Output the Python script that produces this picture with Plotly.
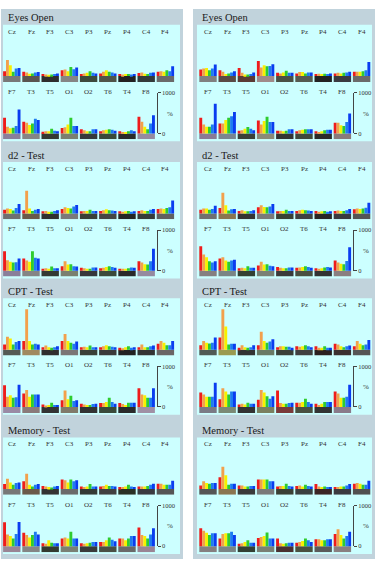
import plotly.graph_objects as go

W, H = 379, 567

TESTS = ["Eyes Open", "d2 - Test", "CPT - Test", "Memory - Test"]
ELEC_ROW1 = ["Cz", "Fz", "F3", "C3", "P3", "Pz", "P4", "C4", "F4"]
ELEC_ROW2 = ["F7", "T3", "T5", "O1", "O2", "T6", "T4", "F8"]
BAND_COLORS = ["#ee1c1c", "#f2a04c", "#f8f000", "#2ecc2e", "#1e7cf0", "#0a3cf0"]
SCALE_TICKS = [0, 1000]
SCALE_TEXT = ["0", "1000"]

# values in % for each electrode: 6 bands (red, orange, yellow, green, blue, dark blue)
EO_L_R1 = [[120, 400, 270, 105, 190, 200], [105, 90, 55, 65, 90, 100], [50, 40, 30, 40, 50, 65],
           [145, 160, 120, 225, 170, 210], [50, 65, 80, 120, 80, 65], [65, 105, 145, 105, 90, 65],
           [50, 40, 50, 50, 40, 50], [75, 90, 55, 50, 80, 90], [105, 120, 105, 145, 120, 245]]
EO_L_R2 = [[385, 165, 125, 140, 180, 590], [290, 260, 205, 245, 360, 330], [40, 55, 55, 115, 65, 55],
           [130, 150, 220, 385, 180, 180], [100, 80, 55, 55, 100, 100], [55, 75, 90, 100, 90, 65],
           [50, 35, 35, 50, 75, 55], [410, 290, 165, 100, 245, 450]]
EO_R_R1 = [[160, 190, 200, 145, 190, 285], [145, 105, 50, 65, 90, 120], [200, 80, 40, 40, 50, 90],
           [370, 210, 270, 245, 250, 290], [80, 65, 90, 130, 80, 80], [65, 100, 100, 65, 90, 90],
           [50, 55, 50, 55, 50, 65], [65, 80, 65, 80, 90, 105], [105, 105, 105, 120, 145, 350]]
EO_R_R2 = [[385, 220, 165, 165, 220, 730], [245, 245, 330, 385, 425, 530], [65, 80, 115, 155, 115, 80],
           [320, 220, 305, 410, 280, 280], [65, 65, 55, 65, 100, 100], [55, 75, 90, 100, 100, 100],
           [50, 35, 55, 75, 90, 90], [260, 260, 200, 180, 280, 490]]

D2_L_R1 = [[90, 120, 110, 70, 130, 230], [80, 560, 120, 60, 90, 110], [50, 60, 40, 40, 60, 80],
           [110, 150, 130, 120, 170, 210], [50, 60, 60, 90, 60, 60], [60, 80, 100, 80, 70, 60],
           [50, 40, 50, 60, 40, 50], [60, 80, 60, 60, 90, 110], [110, 120, 110, 130, 150, 320]]
D2_L_R2 = [[480, 260, 220, 200, 210, 300], [300, 250, 220, 480, 320, 300], [50, 60, 50, 100, 60, 60],
           [110, 230, 150, 160, 110, 100], [70, 60, 50, 50, 80, 80], [60, 70, 90, 110, 90, 70],
           [50, 50, 50, 60, 80, 70], [230, 200, 160, 150, 230, 540]]
D2_R_R1 = [[90, 120, 120, 90, 110, 190], [130, 510, 200, 70, 100, 110], [60, 80, 50, 50, 60, 80],
           [150, 200, 160, 150, 170, 230], [50, 60, 60, 90, 60, 60], [60, 80, 90, 80, 70, 60],
           [60, 40, 50, 60, 40, 50], [60, 70, 60, 60, 80, 110], [100, 120, 110, 120, 140, 260]]
D2_R_R2 = [[600, 400, 330, 230, 200, 230], [300, 330, 250, 220, 250, 270], [60, 70, 60, 110, 70, 70],
           [130, 220, 150, 160, 120, 110], [90, 70, 60, 60, 80, 80], [70, 80, 90, 110, 90, 70],
           [60, 50, 60, 80, 90, 80], [250, 200, 170, 160, 240, 580]]

CPT_L_R1 = [[130, 320, 275, 130, 190, 215], [215, 1000, 215, 130, 145, 130], [60, 105, 60, 45, 60, 85],
            [215, 385, 215, 170, 145, 200], [60, 70, 60, 105, 60, 60], [60, 85, 110, 85, 70, 60],
            [45, 35, 60, 85, 45, 60], [60, 130, 60, 60, 85, 105], [145, 215, 170, 110, 110, 215]]
CPT_L_R2 = [[535, 250, 290, 225, 240, 550], [335, 420, 250, 310, 310, 310], [60, 35, 50, 105, 50, 50],
            [165, 405, 190, 275, 145, 165], [80, 60, 50, 50, 70, 80], [95, 95, 120, 225, 120, 80],
            [95, 70, 50, 105, 105, 105], [465, 310, 290, 225, 230, 465]]
CPT_R_R1 = [[110, 215, 170, 155, 170, 300], [300, 1000, 575, 130, 145, 145], [45, 110, 60, 45, 60, 110],
            [110, 445, 215, 170, 200, 260], [60, 85, 85, 70, 70, 45], [85, 70, 85, 110, 85, 60],
            [85, 45, 45, 85, 45, 45], [145, 130, 85, 60, 85, 105], [85, 215, 145, 110, 130, 240]]
CPT_R_R2 = [[355, 310, 250, 250, 250, 595], [190, 465, 380, 310, 380, 380], [60, 80, 60, 105, 80, 80],
            [180, 420, 355, 265, 205, 265], [405, 95, 80, 80, 95, 105], [105, 105, 120, 205, 120, 80],
            [80, 50, 80, 120, 120, 120], [380, 335, 230, 230, 250, 550]]

MEM_L_R1 = [[120, 250, 160, 105, 145, 160], [190, 375, 105, 60, 105, 120], [75, 60, 45, 35, 60, 75],
            [230, 215, 160, 230, 190, 215], [60, 50, 60, 120, 60, 60], [60, 75, 105, 75, 75, 60],
            [45, 50, 60, 105, 60, 50], [60, 60, 60, 75, 105, 130], [130, 130, 105, 105, 105, 205]]
MEM_L_R2 = [[590, 290, 250, 190, 300, 600], [335, 275, 215, 275, 360, 290], [75, 60, 145, 85, 75, 75],
            [190, 215, 190, 360, 190, 190], [75, 60, 75, 85, 105, 105], [105, 105, 145, 215, 160, 120],
            [190, 190, 145, 190, 250, 250], [460, 275, 255, 190, 290, 445]]
MEM_R_R1 = [[85, 190, 145, 130, 145, 145], [290, 550, 340, 105, 130, 130], [85, 85, 60, 60, 75, 75],
            [230, 230, 230, 230, 190, 190], [60, 75, 75, 130, 75, 60], [75, 85, 60, 105, 75, 60],
            [120, 60, 50, 60, 50, 50], [50, 50, 60, 60, 85, 120], [130, 145, 130, 105, 105, 205]]
MEM_R_R2 = [[445, 385, 335, 275, 320, 320], [190, 300, 320, 320, 360, 275], [60, 75, 105, 145, 85, 85],
            [205, 230, 250, 340, 190, 190], [190, 75, 60, 75, 85, 85], [85, 105, 130, 190, 145, 105],
            [170, 170, 145, 145, 170, 170], [300, 420, 275, 190, 255, 360]]

# colours of the strip under each electrode group
EO_L_B1 = ["#787878", "#5a5550", "#2e2e2e", "#858585", "#3d4a3d", "#50554a", "#222222", "#333a3a", "#6a6a6a"]
EO_L_B2 = ["#8a7f9a", "#858585", "#343a34", "#7a8070", "#36383c", "#3a4a3a", "#2a2a2a", "#958aa0"]
EO_R_B1 = ["#808080", "#5a4a45", "#5a3a35", "#a08a8a", "#4a5045", "#555a50", "#222222", "#3a3a40", "#6a6a6a"]
EO_R_B2 = ["#8a7a95", "#7a8590", "#3a4038", "#8a8a78", "#333333", "#40483c", "#2a2a2a", "#8a7a7a"]
D2_L_B1 = ["#707070", "#6a5a4a", "#303030", "#7a7a7a", "#3a4038", "#454545", "#252525", "#353a3a", "#606060"]
D2_L_B2 = ["#8a7f9a", "#858585", "#343a34", "#7a8070", "#36383c", "#3a4a3a", "#2a2a2a", "#958aa0"]
D2_R_B1 = ["#707070", "#8a7550", "#333333", "#7a7a7a", "#3a4035", "#404040", "#2a2525", "#3a3a40", "#555555"]
D2_R_B2 = ["#857f80", "#7a8585", "#334033", "#7a8075", "#3a3a3a", "#4a5040", "#333333", "#8a7f80"]
CPT_L_B1 = ["#555a55", "#a08a60", "#2e2e2e", "#7a7575", "#3a4038", "#3a3a3a", "#222222", "#333333", "#6a6565"]
CPT_L_B2 = ["#9a8aa5", "#8a7a7a", "#333333", "#807a6a", "#333333", "#3a4a3a", "#2a2a2a", "#a090a5"]
CPT_R_B1 = ["#505a55", "#9a9a50", "#333333", "#6a7a65", "#3a4038", "#404040", "#2a2020", "#3a3030", "#555555"]
CPT_R_B2 = ["#7a7a85", "#7a8a75", "#333333", "#7a8060", "#7a3a3a", "#4a5040", "#333333", "#8a7a8a"]
MEM_L_B1 = ["#777777", "#6a5a4a", "#333333", "#6a6a6a", "#333a35", "#404040", "#2a3025", "#3a3a40", "#555555"]
MEM_L_B2 = ["#9a8595", "#858585", "#333a30", "#7a8075", "#3a3a3a", "#4a5045", "#6a6a6a", "#9a8595"]
MEM_R_B1 = ["#555555", "#8a7550", "#3a3a3a", "#7a7a7a", "#3a4035", "#3a4040", "#3a2525", "#3a3a40", "#505050"]
MEM_R_B2 = ["#857f80", "#7a8585", "#334033", "#7a8075", "#4a3030", "#4a5040", "#5a5a5a", "#8a7f80"]

PANELS = {
    (0, 0): (EO_L_R1, EO_L_R2, EO_L_B1, EO_L_B2),
    (1, 0): (EO_R_R1, EO_R_R2, EO_R_B1, EO_R_B2),
    (0, 1): (D2_L_R1, D2_L_R2, D2_L_B1, D2_L_B2),
    (1, 1): (D2_R_R1, D2_R_R2, D2_R_B1, D2_R_B2),
    (0, 2): (CPT_L_R1, CPT_L_R2, CPT_L_B1, CPT_L_B2),
    (1, 2): (CPT_R_R1, CPT_R_R2, CPT_R_B1, CPT_R_B2),
    (0, 3): (MEM_L_R1, MEM_L_R2, MEM_L_B1, MEM_L_B2),
    (1, 3): (MEM_R_R1, MEM_R_R2, MEM_R_B1, MEM_R_B2),
}

# ---------------- layout geometry (pixels) ----------------
FONT = "Liberation Serif"
K = 41 / 1000.0            # pixels per 1 %
BASE_H = 6 / K             # strip under the bars
BASELINES = [73, 212, 350, 491]
COL_C0 = [11.8, 208.0]     # centre of first group
PITCH = 19.2
GROUP_W = 0.906
BAR_W = GROUP_W / 6
SCALE_POS = 7.55
COL_GRAY = [(1, 183), (193, 375)]
COL_CYAN = [(3, 180), (197, 372)]
GRAY = "#c1d3dc"
CYAN = "#ccffff"


def fx(px):
    return px / W


def fy(py):
    return 1 - py / H


fig = go.Figure()
layout = {}
shapes = []
annotations = []
n = 0

for c in range(2):
    shapes.append(dict(type="rect", xref="paper", yref="paper", layer="below",
                       x0=fx(COL_GRAY[c][0]), x1=fx(COL_GRAY[c][1]), y0=fy(562), y1=fy(5),
                       fillcolor=GRAY, line_width=0))

for (c, p), (r1, r2, b1, b2) in PANELS.items():
    B = BASELINES[p]
    c0 = COL_C0[c]
    shapes.append(dict(type="rect", xref="paper", yref="paper", layer="below",
                       x0=fx(COL_CYAN[c][0]), x1=fx(COL_CYAN[c][1]), y0=fy(B + 66), y1=fy(B - 52),
                       fillcolor=CYAN, line_width=0))
    annotations.append(dict(text=TESTS[p], xref="paper", yref="paper", x=fx(COL_CYAN[c][0] + 3),
                            y=fy(B - 59), xanchor="left", yanchor="middle", showarrow=False,
                            font=dict(family=FONT, size=10.5, color="#1a1a1a")))
    for row, (vals, bases, names) in enumerate([(r1, b1, ELEC_ROW1), (r2, b2, ELEC_ROW2)]):
        n += 1
        xa = "x" if n == 1 else f"x{n}"
        ya = "y" if n == 1 else f"y{n}"
        base_line = B if row == 0 else B + 58
        top_px = base_line - (44 if row == 0 else 43)
        ng = len(names)
        xmax = 8.6 if row == 0 else SCALE_POS
        layout[f"xaxis{n}"] = dict(domain=[fx(c0 - 0.6 * PITCH), fx(c0 + xmax * PITCH)],
                                   range=[-0.6, xmax], anchor=ya, visible=False, fixedrange=True)
        layout[f"yaxis{n}"] = dict(domain=[fy(base_line + 6), fy(top_px)],
                                   range=[-6 / K, (base_line - top_px) / K], anchor=xa,
                                   visible=False, fixedrange=True)
        gx = list(range(ng))
        fig.add_trace(go.Bar(x=gx, y=[-BASE_H] * ng, base=0, width=GROUP_W,
                             marker=dict(color=bases, line_width=0), xaxis=xa, yaxis=ya,
                             showlegend=False, hoverinfo="skip"))
        for k in range(6):
            fig.add_trace(go.Bar(x=gx, y=[v[k] for v in vals], width=BAR_W,
                                 offset=-GROUP_W / 2 + k * BAR_W,
                                 marker=dict(color=BAND_COLORS[k], line_width=0),
                                 xaxis=xa, yaxis=ya, showlegend=False))
        for i, name in enumerate(names):
            annotations.append(dict(text=name, xref=xa, yref="paper", x=i,
                                    y=fy(top_px - 1 if row == 0 else top_px + 1),
                                    xanchor="center", yanchor="middle", showarrow=False,
                                    font=dict(family=FONT, size=7, color="#333333")))
        if row == 1:
            # the 0-1000 % scale bar
            n_scale = 100 + n
            layout[f"yaxis{n_scale}"] = dict(domain=[fy(base_line), fy(base_line - 41)],
                                             range=[0, 1000], anchor="free",
                                             position=fx(c0 + SCALE_POS * PITCH), side="right",
                                             showline=True, linecolor="#444444", linewidth=1,
                                             ticks="outside", ticklen=3, tickcolor="#444444",
                                             tickvals=SCALE_TICKS, ticktext=SCALE_TEXT,
                                             showgrid=False, zeroline=False, fixedrange=True,
                                             tickfont=dict(family=FONT, size=6.5, color="#333333"))
            fig.add_trace(go.Scatter(x=[None], y=[None], xaxis=xa, yaxis=f"y{n_scale}",
                                     showlegend=False, hoverinfo="skip"))
            annotations.append(dict(text="%", xref="paper", yref="paper",
                                    x=fx(c0 + SCALE_POS * PITCH + 13), y=fy(base_line - 20),
                                    xanchor="center", yanchor="middle", showarrow=False,
                                    font=dict(family=FONT, size=7, color="#333333")))

fig.update_layout(**layout)
fig.update_layout(width=W, height=H, margin=dict(l=0, r=0, t=0, b=0),
                  paper_bgcolor="white", plot_bgcolor="rgba(0,0,0,0)",
                  barmode="overlay", showlegend=False, shapes=shapes, annotations=annotations)
fig.write_html("out.html", config={"displayModeBar": False})
